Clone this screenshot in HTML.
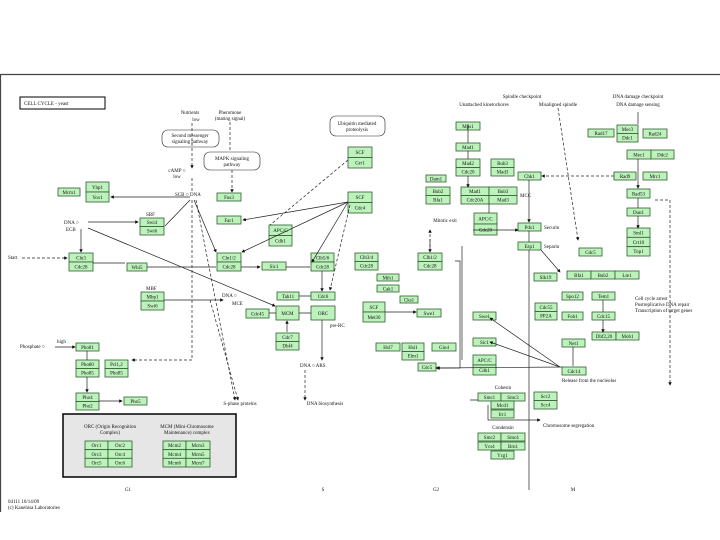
<!DOCTYPE html>
<html><head><meta charset="utf-8"><style>
body{margin:0;background:#fff;}
svg{display:block;font-family:"Liberation Serif",serif;}
.b{fill:#bdf2bd;stroke:#2e5e2e;stroke-width:0.8;}
.t{font-size:5px;text-anchor:middle;fill:#111;}
.l{font-size:5px;fill:#111;}
.ln{stroke:#222;stroke-width:0.7;fill:none;}
.d{stroke:#222;stroke-width:0.7;fill:none;stroke-dasharray:3,2;}
</style></head><body>
<svg width="720" height="540" viewBox="0 0 720 540">
<defs><marker id="a" markerWidth="5" markerHeight="5" refX="4" refY="2.5" orient="auto"><path d="M0,0L5,2.5L0,5z" fill="#111"/></marker></defs>
<line x1="0" y1="74.5" x2="720" y2="74.5" stroke="#444" stroke-width="1.2"/>
<line x1="0.5" y1="74" x2="0.5" y2="512" stroke="#444" stroke-width="1.2"/>
<rect x="20" y="97" width="85" height="12" fill="#fff" stroke="#000" stroke-width="1"/>
<text class="l" x="24" y="105">CELL CYCLE - yeast</text>
<!-- rounded boxes -->
<rect x="162" y="130" width="57" height="17" rx="6" fill="#fff" stroke="#222" stroke-width="0.6"/>
<text class="t" x="190" y="137">Second messenger</text><text class="t" x="190" y="143">signaling pathway</text>
<rect x="204" y="152" width="56" height="18" rx="6" fill="#fff" stroke="#222" stroke-width="0.6"/>
<text class="t" x="232" y="160">MAPK signaling</text><text class="t" x="232" y="166">pathway</text>
<rect x="330" y="116" width="55" height="20" rx="6" fill="#fff" stroke="#222" stroke-width="0.6"/>
<text class="t" x="357" y="125">Ubiquitin mediated</text><text class="t" x="357" y="131">proteolysis</text>
<text class="t" x="190" y="114">Nutrients</text><text class="t" x="196" y="121">low</text>
<text class="t" x="230" y="114">Pheromone</text><text class="t" x="230" y="120">(mating signal)</text>
<text class="t" x="177" y="172">cAMP ○</text><text class="t" x="177" y="178">low</text>
<text class="l" x="175" y="196">SCB ○ DNA</text>
<text class="l" x="64" y="224">DNA ○</text><text class="l" x="66" y="231">ECB</text>
<text class="l" x="8" y="259">Start</text>
<text class="l" x="222" y="297">DNA ○</text><text class="l" x="232" y="305">MCE</text>
<text class="l" x="146" y="290">MBF</text><text class="l" x="146" y="216">SBF</text>
<text class="l" x="330" y="327">pre-RC</text>
<text class="l" x="300" y="367">DNA ○ ARS</text>
<text class="l" x="20" y="348">Phosphate ○</text><text class="l" x="57" y="343">high</text>
<text class="t" x="240" y="405">S-phase proteins</text>
<text class="t" x="325" y="405">DNA biosynthesis</text>
<text class="t" x="445" y="222">Mitotic exit</text>
<text class="t" x="522" y="98">Spindle checkpoint</text>
<text class="t" x="484" y="106">Unattached kinetochores</text>
<text class="t" x="558" y="106">Misaligned spindle</text>
<text class="t" x="638" y="98">DNA damage checkpoint</text>
<text class="t" x="638" y="106">DNA damage sensing</text>
<text class="l" x="520" y="197">MCC</text>
<text class="l" x="544" y="229">Securin</text><text class="l" x="544" y="248">Separin</text>
<text class="l" x="635" y="300">Cell cycle arrest</text>
<text class="l" x="635" y="306">Postreplicative DNA repair</text>
<text class="l" x="635" y="312">Transcription of target genes</text>
<text class="l" x="562" y="382">Release from the nucleolus</text>
<text class="t" x="503" y="389">Cohesin</text><text class="t" x="503" y="429">Condensin</text>
<text class="l" x="543" y="427">Chromosome segregation</text>
<text class="t" x="128" y="491">G1</text><text class="t" x="323" y="491">S</text>
<text class="t" x="436" y="491">G2</text><text class="t" x="573" y="491">M</text>
<text class="l" x="8" y="503">04111 10/14/09</text>
<text class="l" x="8" y="509">(c) Kanehisa Laboratories</text>
<!-- gray box -->
<rect x="63" y="414" width="173" height="63" fill="#e6e6e6" stroke="#000" stroke-width="1.5"/>
<text class="t" x="110" y="428">ORC (Origin Recognition</text><text class="t" x="110" y="434">Complex)</text>
<text class="t" x="187" y="428">MCM (Mini-Chromosome</text><text class="t" x="187" y="434">Maintenance) complex</text>
<g id="boxes"></g>
<!-- connectors -->
<g>
<path class="d" d="M192,123V168" marker-end="url(#a)"/>
<path class="d" d="M230,122V152"/>
<path class="d" d="M232,170V192" marker-end="url(#a)"/>
<path class="d" d="M192,178V192"/>
<path class="ln" d="M190,197H111" marker-end="url(#a)"/>
<path class="ln" d="M88,222H138" marker-end="url(#a)"/>
<path class="ln" d="M81,229V252" marker-end="url(#a)"/>
<path class="d" d="M22,258H67" marker-end="url(#a)"/>
<path class="ln" d="M93,263H125"/>
<path class="ln" d="M147,267H216"/>
<path class="ln" d="M165,226L190,200"/>
<path class="ln" d="M194,200L216,252" marker-end="url(#a)"/>
<path class="ln" d="M241,267H260" marker-end="url(#a)"/>
<path class="ln" d="M286,267H310"/>
<path class="ln" d="M88,228L275,306" marker-end="url(#a)"/>
<path class="ln" d="M164,300H223" marker-end="url(#a)"/>
<path class="ln" d="M348,202L243,220" marker-end="url(#a)"/>
<path class="ln" d="M348,202L242,252" marker-end="url(#a)"/>
<path class="ln" d="M348,202L312,262" marker-end="url(#a)"/>
<path class="d" d="M350,205L330,290" marker-end="url(#a)"/>
<path class="d" d="M348,160L270,225"/>
<path class="ln" d="M322,271V291" marker-end="url(#a)"/>
<path class="ln" d="M322,320V360" marker-end="url(#a)"/>
<path class="d" d="M305,370V400" marker-end="url(#a)"/>
<path class="ln" d="M287,332V321" marker-end="url(#a)"/>
<path class="ln" d="M299,296H311M299,313H311M269,313H276"/>
<path class="d" d="M192,200V360H132" marker-end="url(#a)"/>
<path class="d" d="M196,200L235,400" marker-end="url(#a)"/>
<path class="d" d="M210,300L238,400" marker-end="url(#a)"/>
<path class="ln" d="M87,351V360M87,377V392" marker-end="url(#a)"/>
<path class="ln" d="M55,347H75" marker-end="url(#a)"/>
<path class="ln" d="M99,401H122" marker-end="url(#a)"/>
<path class="ln" d="M430,239L430,252" marker-end="url(#a)"/>
<path class="d" d="M430,252V230" marker-end="url(#a)"/>
<path class="ln" d="M385,312H416" marker-end="url(#a)"/>
<path class="ln" d="M455,261H460V368H437" marker-end="url(#a)"/>
<path class="ln" d="M468,124V143M468,151V159M468,176V187" marker-end="url(#a)"/>
<path class="ln" d="M489,204V213M473,230H518" marker-end="url(#a)"/>
<path class="ln" d="M529,180V222" marker-end="url(#a)"/>
<path class="ln" d="M529,231V242M529,250V490"/>
<path class="ln" d="M462,246V360"/>
<path class="d" d="M614,176H542" marker-end="url(#a)"/>
<path class="d" d="M558,108L578,240" marker-end="url(#a)"/>
<path class="ln" d="M638,112V124M638,159V188" marker-end="url(#a)"/>
<path class="ln" d="M638,198V208M638,216V228" marker-end="url(#a)"/>
<path class="d" d="M655,200H670V385" marker-end="url(#a)"/>
<path class="ln" d="M562,367L436,368" marker-end="url(#a)"/>
<path class="ln" d="M573,347V366M603,300V312M603,320V332" marker-end="url(#a)"/>
<path class="ln" d="M560,367L490,318" marker-end="url(#a)"/>
<path class="ln" d="M560,367L490,342" marker-end="url(#a)"/>
<path class="ln" d="M541,250L560,272" marker-end="url(#a)"/>
<path class="ln" d="M470,400H478M488,405V420H540" marker-end="url(#a)"/>
</g>
</svg>
<script>
const B=[
[58,188,22,8,["Mcm1"]],[86,182,23,20,["Yhp1","Yox1"]],[140,218,24,17,["Swi4","Swi6"]],
[69,253,24,18,["Cln3","Cdc28"]],[127,263,20,8,["Whi5"]],[217,193,24,8,["Fus3"]],[217,216,24,8,["Far1"]],
[217,253,24,18,["Cln1/2","Cdc28"]],[269,225,23,21,["APC/C","Cdh1"]],[262,262,24,8,["Sic1"]],
[311,253,23,18,["Clb5/6","Cdc28"]],[348,147,24,21,["SCF","Grr1"]],[348,192,24,21,["SCF","Cdc4"]],
[277,292,22,8,["Tah11"]],[311,292,24,8,["Cdc6"]],[246,309,23,9,["Cdc45"]],[276,306,23,14,["MCM"]],[311,306,24,14,["ORC"]],
[276,333,23,17,["Cdc7","Dbf4"]],[141,292,23,18,["Mbp1","Swi6"]],[76,343,23,8,["Pho81"]],[76,360,23,17,["Pho80","Pho85"]],
[105,360,23,17,["Pcl1,2","Pho85"]],[76,393,23,17,["Pho4","Pho2"]],[124,397,23,8,["Pho5"]],
[355,253,23,17,["Clb3/4","Cdc28"]],[418,253,24,17,["Clb1/2","Cdc28"]],[377,274,22,7,["Mih1"]],[377,285,22,7,["Cak1"]],
[400,296,18,7,["Cks1"]],[363,302,22,20,["SCF","Met30"]],[417,309,24,8,["Swe1"]],[376,343,24,8,["Hsl7"]],
[402,343,22,17,["Hsl1","Elm1"]],[432,343,24,8,["Gin4"]],[418,363,18,8,["Cdc5"]],
[456,122,24,8,["Mps1"]],[456,143,24,8,["Mad1"]],[456,159,24,17,["Mad2","Cdc20"]],[491,159,23,17,["Bub3","Mad3"]],
[426,175,20,7,["Dam1"]],[426,187,24,17,["Bub2","Bfa1"]],[461,187,28,17,["Mad1","Cdc20A"]],[489,187,28,17,["Bub3","Mad3"]],
[474,213,23,22,["APC/C","Cdc20"]],[518,172,23,8,["Chk1"]],[518,223,23,8,["Pds1"]],[518,242,23,8,["Esp1"]],[534,273,23,8,["Slk19"]],
[588,129,26,8,["Rad17"]],[617,125,21,17,["Mec3","Ddc1"]],[643,129,24,9,["Rad24"]],[627,150,24,9,["Mec1"]],[651,150,23,9,["Ddc2"]],
[614,172,22,8,["Rad9"]],[643,172,24,8,["Mrc1"]],[627,189,23,9,["Rad53"]],[627,208,23,8,["Dun1"]],[627,228,23,28,["Sml1","Crt10","Top1"]],
[579,248,23,8,["Cdc5"]],[567,271,24,8,["Bfa1"]],[591,271,24,8,["Bub2"]],[615,271,24,8,["Lte1"]],
[562,292,21,8,["Spo12"]],[592,292,23,8,["Tem1"]],[535,303,22,17,["Cdc55","PP2A"]],[562,312,21,8,["Fob1"]],[592,312,23,8,["Cdc15"]],
[562,339,23,8,["Net1"]],[592,332,24,8,["Dbf2,20"]],[616,332,23,8,["Mob1"]],[562,367,24,8,["Cdc14"]],
[473,312,23,8,["Swe1"]],[473,338,23,8,["Sic1"]],[473,355,23,20,["APC/C","Cdh1"]],
[478,393,23,8,["Smc1"]],[501,393,24,8,["Smc3"]],[491,401,23,8,["Mcd1"]],[491,410,23,8,["Irr1"]],[534,392,23,17,["Scc2","Scc4"]],
[478,433,23,8,["Smc2"]],[501,433,24,8,["Smc4"]],[478,442,23,8,["Ycs4"]],[501,442,24,8,["Brn1"]],[491,451,23,8,["Ycg1"]],
[85,441,23,26,["Orc1","Orc3","Orc5"]],[108,441,24,26,["Orc2","Orc4","Orc6"]],
[163,441,23,26,["Mcm2","Mcm4","Mcm6"]],[186,441,24,26,["Mcm3","Mcm5","Mcm7"]]
];
const g=document.getElementById('boxes');const ns='http://www.w3.org/2000/svg';
for(const [x,y,w,h,ls] of B){const n=ls.length,rh=h/n;ls.forEach((s,i)=>{const r=document.createElementNS(ns,'rect');
r.setAttribute('x',x);r.setAttribute('y',y+i*rh);r.setAttribute('width',w);r.setAttribute('height',rh);r.setAttribute('class','b');g.appendChild(r);
const t=document.createElementNS(ns,'text');t.setAttribute('x',x+w/2);t.setAttribute('y',y+i*rh+rh/2+1.8);t.setAttribute('class','t');t.textContent=s;g.appendChild(t);});}
</script>
</body></html>
